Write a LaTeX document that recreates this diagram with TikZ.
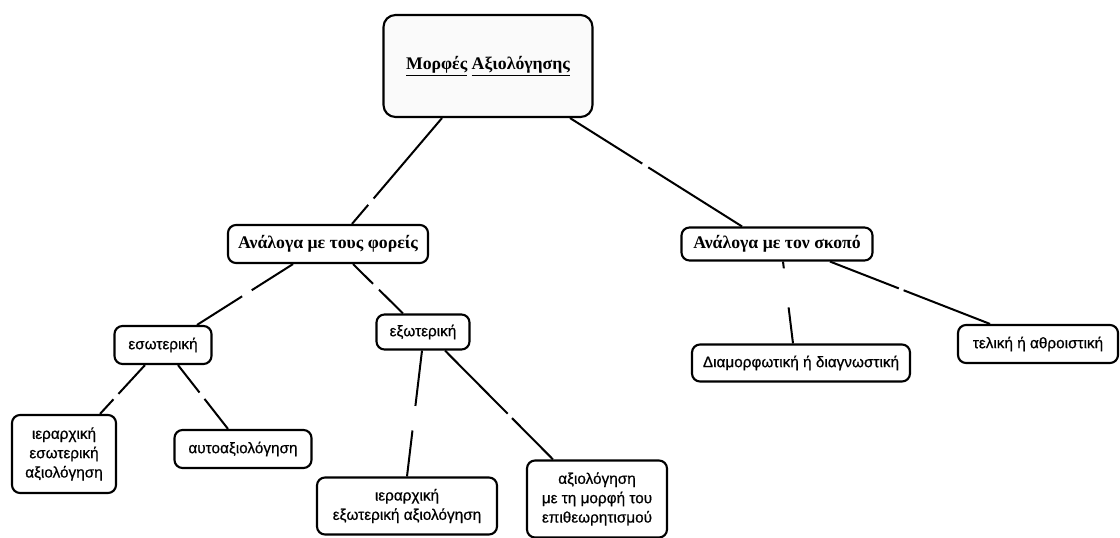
\documentclass[tikz,border=0pt]{standalone}
\usepackage{fontspec}
\setmainfont{Liberation Sans}
\newfontfamily\lowfont[FakeBold=0.6]{Liberation Sans}
\newfontfamily\hserif{Liberation Serif}
\usetikzlibrary{calc}
\newcommand\brokenedge[4]{\draw[conn] (#1) -- ($(#1)!#3!(#2)$) ($(#1)!#4!(#2)$) -- (#2);}
\begin{document}
\begin{tikzpicture}[x=0.75pt,y=-0.75pt,
  box/.style={draw, line width=1.6pt, rounded corners=6pt, fill=white, align=center, inner sep=0pt,
    font=\lowfont\fontsize{11.5}{14.5}\selectfont},
  hbox/.style={box, font=\hserif\bfseries\fontsize{13.3}{15}\selectfont},
  conn/.style={line width=1.5pt}]
\useasboundingbox (0,0) rectangle (1120,538);
\fill[white] (0,0) rectangle (1120,538);

\node[hbox, rounded corners=9pt, fill=black!2, minimum width=156.75pt, minimum height=76.5pt] (top) at (488,66)
  {\underline{Μορφές} \underline{Αξιολόγησης}};
\node[hbox, minimum width=150pt, minimum height=28.5pt] (fo) at (328,244) {Ανάλογα με τους φορείς};
\node[hbox, minimum width=143.25pt, minimum height=24.75pt] (sk) at (777,244) {Ανάλογα με τον σκοπό};
\node[box, minimum width=72.75pt, minimum height=28.5pt] (eso) at (163,345) {εσωτερική};
\node[box, minimum width=69.75pt, minimum height=26.25pt] (exo) at (423,332) {εξωτερική};
\node[box, minimum width=78pt, minimum height=58.5pt] (ierin) at (64,454) {ιεραρχική\\εσωτερική\\αξιολόγηση};
\node[box, minimum width=102.75pt, minimum height=28.5pt] (auto) at (243,449) {αυτοαξιολόγηση};
\node[box, minimum width=135pt, minimum height=42.75pt] (ierex) at (407,506) {ιεραρχική\\εξωτερική αξιολόγηση};
\node[box, minimum width=105pt, minimum height=57.75pt] (epith) at (597,499) {αξιολόγηση\\με τη μορφή του\\επιθεωρητισμού};
\node[box, minimum width=163.5pt, minimum height=27.75pt] (diam) at (801,363) {Διαμορφωτική ή διαγνωστική};
\node[box, minimum width=120pt, minimum height=28.5pt] (tel) at (1038,344) {τελική ή αθροιστική};

\coordinate (a1) at ($(top.south)+(-46,0)$);   \coordinate (b1) at ($(fo.north)+(24,0)$);
\coordinate (a2) at ($(top.south)+(82,0)$);    \coordinate (b2) at ($(sk.north)+(-35,0)$);
\coordinate (a3) at ($(fo.south)+(-35,0)$);    \coordinate (b3) at ($(eso.north)+(34,0)$);
\coordinate (a4) at ($(fo.south)+(25,0)$);     \coordinate (b4) at ($(exo.north)+(-20,0)$);
\coordinate (a5) at ($(eso.south)+(-18,0)$);   \coordinate (b5) at ($(ierin.north)+(36,0)$);
\coordinate (a6) at ($(eso.south)+(15,0)$);    \coordinate (b6) at ($(auto.north)+(-15,0)$);
\coordinate (a7) at ($(exo.south)+(-1,0)$);    \coordinate (b7) at ($(ierex.north)+(0,0)$);
\coordinate (a8) at ($(exo.south)+(22,0)$);    \coordinate (b8) at ($(epith.north)+(-44,0)$);
\coordinate (a9) at ($(sk.south)+(6,0)$);      \coordinate (b9) at ($(diam.north)+(-8,0)$);
\coordinate (a10) at ($(sk.south)+(53,0)$);    \coordinate (b10) at ($(tel.north)+(-48,0)$);

\brokenedge{a1}{b1}{0.76}{0.82}
\brokenedge{a2}{b2}{0.42}{0.455}
\brokenedge{a3}{b3}{0.43}{0.53}
\brokenedge{a4}{b4}{0.40}{0.52}
\brokenedge{a5}{b5}{0.59}{0.70}
\brokenedge{a6}{b6}{0.43}{0.53}
\brokenedge{a7}{b7}{0.44}{0.635}
\brokenedge{a8}{b8}{0.58}{0.62}
\brokenedge{a9}{b9}{0.083}{0.56}
\brokenedge{a10}{b10}{0.43}{0.46}
\end{tikzpicture}
\end{document}
